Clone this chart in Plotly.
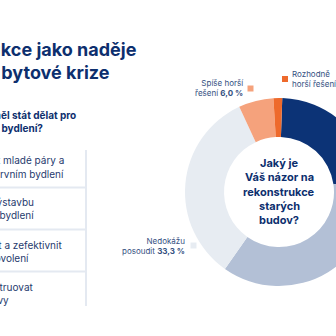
import plotly.graph_objects as go

# ---- data ----
categories = ["Rozhodně lepší řešení", "Spíše lepší řešení", "Nedokážu posoudit",
              "Spíše horší řešení", "Rozhodně horší řešení"]
values = [22.2, 37.0, 33.3, 6.0, 1.5]
colors = ["#0c3376", "#b3c0d6", "#e7ecf2", "#f5a27c", "#ee6a2c"]

title_lines = ["Rekonstrukce jako naděje", "pro řešení bytové krize"]
question_lines = ["Co by podle vás měl stát dělat pro", "zlepšení dostupnosti bydlení?"]
items = [["Podpořit mladé páry a", "rodiny v prvním bydlení"],
         ["Podpořit výstavbu", "nájemního bydlení"],
         ["Zjednodušit a zefektivnit", "stavební povolení"],
         ["Rekonstruovat", "staré budovy"]]
center_lines = ["Jaký je", "Váš názor na", "rekonstrukce", "starých", "budov?"]

W, H = 440, 336
NAVY = "#0d2f6e"
TEXT = "#1f3b6e"
LINE = "#e4e9f1"
FONT = "Inter"


def px(x):
    return x / W


def py(y):
    return 1 - y / H


# donut geometry (pixels)
cx, cy, R, r_in = 279, 192, 94, 55

fig = go.Figure()
fig.add_trace(go.Pie(
    labels=categories, values=values, sort=False, direction="clockwise",
    rotation=2, hole=r_in / R, textinfo="none", hoverinfo="label+percent",
    marker=dict(colors=colors, line=dict(width=0)),
    domain=dict(x=[px(cx - R), px(cx + R)], y=[py(cy + R), py(cy - R)]),
    showlegend=False,
))

ann = []


def add_text(text, x, y, size, color, bold=False, xanchor="right", align="right"):
    t = f"<b>{text}</b>" if bold else text
    ann.append(dict(text=t, x=px(x), y=py(y), xref="paper", yref="paper",
                    xanchor=xanchor, yanchor="middle", align=align, showarrow=False,
                    font=dict(family=FONT, size=size, color=color)))


# title
add_text(title_lines[0], 139, 49, 18, NAVY, bold=True)
add_text(title_lines[1], 112, 72, 18, NAVY, bold=True)
# question
add_text(question_lines[0], 78, 115, 10, NAVY, bold=True)
add_text(question_lines[1], 45, 128, 10, NAVY, bold=True)

# list items
item_rows = [(160, 173.5), (202, 215), (245, 258), (287, 300)]
item_ends = [(66, 66), (36, 36), (64, 31), (36, 11)]
for (l1, l2), (y1, y2), (e1, e2) in zip(items, item_rows, item_ends):
    add_text(l1, e1, y1, 10, TEXT)
    add_text(l2, e2, y2, 10, TEXT)

# center text
for i, line in enumerate(center_lines):
    add_text(line, cx, 163 + i * 14.3, 11, NAVY, bold=True, xanchor="center", align="center")

# slice labels
LBL = "#34507f"
add_text("Spíše horší<br>řešení <b>%s %%</b>" % f"{values[3]:.1f}".replace(".", ","),
         245, 88, 8, LBL)
add_text("Rozhodně<br>horší řešení <b>%s %%</b>" % f"{values[4]:.1f}".replace(".", ","),
         290, 79.5, 8, LBL, xanchor="left", align="left")
add_text("Nedokážu<br>posoudit <b>%s %%</b>" % f"{values[2]:.1f}".replace(".", ","),
         187, 246, 8, LBL)

shapes = []
# legend squares near labels
for (sx, sy, s, c) in [(250.5, 88.5, 6, colors[3]), (285, 79, 6, colors[4]), (193.5, 245.5, 6, colors[2])]:
    shapes.append(dict(type="rect", xref="paper", yref="paper",
                       x0=px(sx - s / 2), x1=px(sx + s / 2), y0=py(sy + s / 2), y1=py(sy - s / 2),
                       fillcolor=c, line=dict(width=0)))
# list box borders
shapes.append(dict(type="line", xref="paper", yref="paper", x0=px(86), x1=px(86),
                   y0=py(150), y1=py(306), line=dict(color=LINE, width=2)))
for yy in [187.5, 229.5, 271.5]:
    shapes.append(dict(type="line", xref="paper", yref="paper", x0=px(-5), x1=px(86),
                       y0=py(yy), y1=py(yy), line=dict(color=LINE, width=2)))

fig.update_layout(width=W, height=H, margin=dict(l=0, r=0, t=0, b=0),
                  paper_bgcolor="white", plot_bgcolor="white",
                  annotations=ann, shapes=shapes)

fig.write_html("out.html")
